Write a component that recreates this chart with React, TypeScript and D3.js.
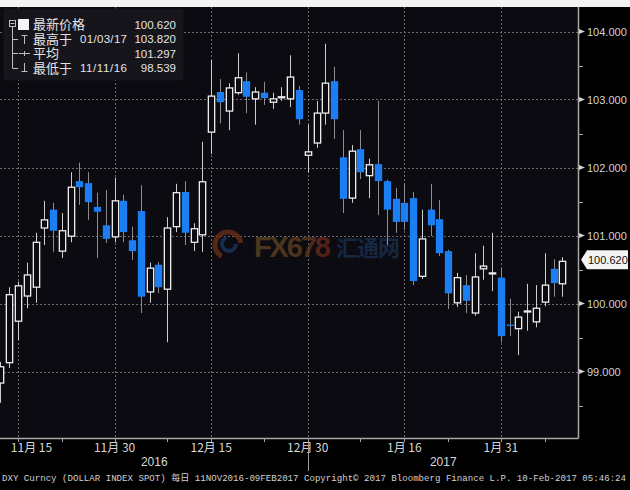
import * as d3 from 'd3'
import React from 'react'

// DXY daily candles, 11 Nov 2016 - 09 Feb 2017
const dates = [
  '2016-11-11', '2016-11-14', '2016-11-15', '2016-11-16', '2016-11-17', '2016-11-18',
  '2016-11-21', '2016-11-22', '2016-11-23', '2016-11-24', '2016-11-25',
  '2016-11-28', '2016-11-29', '2016-11-30', '2016-12-01', '2016-12-02',
  '2016-12-05', '2016-12-06', '2016-12-07', '2016-12-08', '2016-12-09',
  '2016-12-12', '2016-12-13', '2016-12-14', '2016-12-15', '2016-12-16',
  '2016-12-19', '2016-12-20', '2016-12-21', '2016-12-22', '2016-12-23',
  '2016-12-26', '2016-12-27', '2016-12-28', '2016-12-29', '2016-12-30',
  '2017-01-02', '2017-01-03', '2017-01-04', '2017-01-05', '2017-01-06',
  '2017-01-09', '2017-01-10', '2017-01-11', '2017-01-12', '2017-01-13',
  '2017-01-16', '2017-01-17', '2017-01-18', '2017-01-19', '2017-01-20',
  '2017-01-23', '2017-01-24', '2017-01-25', '2017-01-26', '2017-01-27',
  '2017-01-30', '2017-01-31', '2017-02-01', '2017-02-02', '2017-02-03',
  '2017-02-06', '2017-02-07', '2017-02-08', '2017-02-09',
]
const opens = [
  98.83, 99.13, 99.74, 100.11, 100.24, 101.11,
  101.38, 100.77, 100.99, 101.8, 101.77,
  101.42, 101.15, 100.98, 101.51, 100.93,
  101.36, 100.17, 100.57, 100.21, 101.13,
  101.64, 100.9, 101.01, 102.52, 103.11,
  102.83, 103.1, 103.27, 103.01, 103.1,
  102.96, 103.03, 103.01, 103.14, 102.18,
  102.36, 102.8, 103.27, 102.15, 101.55,
  102.27, 101.88, 102.05, 101.8, 101.54,
  101.48, 101.55, 100.4, 101.38, 101.24,
  100.77, 100.01, 100.27, 99.86, 100.51,
  100.44, 100.38, 99.69, 99.63, 99.88,
  99.73, 100.02, 100.51, 100.29,
]
const highs = [
  99.14, 100.24, 100.32, 100.6, 101.04, 101.51,
  101.48, 101.33, 101.93, 102.07, 101.93,
  101.63, 101.67, 101.85, 101.6, 101.13,
  101.74, 100.6, 100.61, 101.27, 101.76,
  101.8, 101.18, 102.38, 103.58, 103.3,
  103.24, 103.68, 103.4, 103.18, 103.26,
  103.1, 103.18, 103.65, 103.2, 102.63,
  102.98, 103.82, 103.48, 102.55, 102.33,
  102.55, 102.13, 102.98, 101.82, 101.7,
  101.77, 101.64, 101.38, 101.76, 101.52,
  100.79, 100.45, 100.42, 100.74, 100.85,
  101.04, 100.52, 100.07, 99.88, 100.29,
  100.27, 100.74, 100.65, 100.68,
]
const lows = [
  98.539, 99.05, 99.46, 99.93, 100.01, 100.86,
  100.76, 100.67, 100.9, 101.45, 101.23,
  100.67, 100.89, 100.9, 100.9, 100.64,
  99.86, 100.01, 100.15, 99.43, 101.05,
  100.86, 100.77, 100.76, 102.2, 102.65,
  102.55, 103.07, 102.8, 102.63, 102.92,
  102.86, 102.98, 102.89, 102.63, 101.93,
  102.29, 102.63, 102.42, 101.33, 101.48,
  101.83, 101.55, 101.3, 100.86, 101.04,
  101.08, 100.27, 100.36, 100.99, 100.7,
  99.92, 99.95, 99.86, 99.82, 100.35,
  100.18, 99.43, 99.52, 99.24, 99.6,
  99.65, 99.96, 100.1, 100.1,
]
const closes = [
  99.07, 100.13, 100.26, 100.42, 100.9, 101.23,
  101.07, 101.07, 101.71, 101.71, 101.49,
  101.35, 100.95, 101.51, 101.05, 100.77,
  100.1, 100.52, 100.24, 101.11, 101.63,
  101.04, 101.1, 101.79, 103.05, 102.96,
  103.17, 103.32, 103.04, 103.11, 103.02,
  103.01, 103.04, 103.33, 102.71, 102.23,
  102.8, 103.24, 102.71, 101.54, 102.24,
  101.93, 102.04, 101.8, 101.38, 101.2,
  101.2, 100.33, 100.95, 101.15, 100.74,
  100.15, 100.38, 100.04, 100.39, 100.55,
  100.45, 99.52, 99.67, 99.8, 99.89,
  99.93, 100.27, 100.3, 100.62,
]

const tickDates = ['2016-11-15', '2016-11-30', '2016-12-15', '2016-12-30', '2017-01-16', '2017-01-31']
const tickLabels = ['11月 15', '11月 30', '12月 15', '12月 30', '1月 16', '1月 31']
const minorTickDates = ['2016-11-22', '2016-12-08', '2016-12-23', '2017-01-09', '2017-01-23', '2017-02-07']
const years = ['2016', '2017']
const yearBreak = '2016-12-30'
const priceTicks = [99, 100, 101, 102, 103, 104]
const priceMinorTicks = [98.5, 99.5, 100.5, 101.5, 102.5, 103.5]

const legendNames = ['最新价格', '最高于', '平均', '最低于']
const legendDates = ['', '01/03/17', '', '11/11/16']
const legendValues = ['100.620', '103.820', '101.297', '98.539']

const footer =
  'DXY Curncy (DOLLAR INDEX SPOT)  每日 11NOV2016-09FEB2017  Copyright© 2017 Bloomberg Finance L.P.  10-Feb-2017 05:46:24'

const W = 630
const H = 490
const plotTop = 7
const plotRight = 578
const plotBottom = 438
const BLUE = '#1b7ef2'
const GRID = '#6a6a6a'
const CJK = '"Noto Sans CJK SC", "Noto Sans", sans-serif'
const LAT = '"Liberation Sans", Arial, sans-serif'

export default function App() {
  const x = d3.scalePoint<string>().domain(dates).range([0.44, 562.4])
  const y = d3.scaleLinear().domain([99, 104]).range([371.5, 31.5])
  const step = x.step()
  const bodyW = step * 0.72
  const px = (v: number) => Math.round(v) + 0.5

  const lastClose = closes[closes.length - 1]
  const flagY = y(lastClose) - 1.5
  const breakX = px(x(yearBreak)!)

  return (
    <svg width={W} height={H} style={{ position: 'absolute', left: 0, top: 0, display: 'block' }}>
      <defs>
        <linearGradient id="wmGrad" x1="0" x2="1" y1="0" y2="0">
          <stop offset="0%" stopColor="#5e4822" />
          <stop offset="55%" stopColor="#624020" />
          <stop offset="100%" stopColor="#6c2416" />
        </linearGradient>
      </defs>
      <rect x={0} y={0} width={W} height={H} fill="#000" />
      <rect x={0} y={0} width={W} height={plotTop} fill="#f3f3f3" />
      <rect x={0} y={plotTop} width={plotRight} height={plotBottom - plotTop} fill="#0c0b11" />

      {/* gridlines */}
      {priceTicks.map((t) => (
        <line key={'hg' + t} x1={0} x2={plotRight} y1={px(y(t))} y2={px(y(t))}
          stroke={GRID} strokeWidth={1} strokeDasharray="2,2" />
      ))}
      {tickDates.map((d) => (
        <line key={'vg' + d} x1={px(x(d)!)} x2={px(x(d)!)} y1={plotTop} y2={plotBottom}
          stroke={GRID} strokeWidth={1} strokeDasharray="2,2" />
      ))}

      {/* watermark */}
      <g opacity={0.75}>
        <circle cx={228} cy={245} r={13} fill="none" stroke="#6e3018" strokeWidth={5}
          strokeDasharray="52 30" transform="rotate(120 228 245)" />
        <circle cx={229} cy={244} r={7} fill="none" stroke="#1b3660" strokeWidth={4}
          strokeDasharray="30 14" />
        <text x={254} y={257} fontFamily={LAT} fontWeight="bold" fontSize={29}
          fill="url(#wmGrad)" textLength={77}>FX678</text>
        <text x={336} y={256} fontFamily={CJK} fontWeight="bold" fontSize={22}
          fill="#1a3152" textLength={64}>汇通网</text>
      </g>

      {/* candles */}
      {dates.map((d, i) => {
        const o = opens[i], h = highs[i], l = lows[i], c = closes[i]
        const up = c >= o
        const cx = px(x(d)!)
        const top = y(Math.max(o, c))
        const bot = y(Math.min(o, c))
        const bh = Math.max(bot - top, 1)
        return (
          <g key={d}>
            <line x1={cx} x2={cx} y1={y(h)} y2={y(l)} stroke={up ? '#cfcfcf' : '#8c8c8c'} strokeWidth={1} />
            {up ? (
              <rect x={cx - bodyW / 2} y={top} width={bodyW} height={bh}
                fill="#0c0b11" stroke="#eeeeee" strokeWidth={1.3} />
            ) : (
              <rect x={cx - bodyW / 2 - 0.5} y={top} width={bodyW + 1} height={bh} fill={BLUE} />
            )}
          </g>
        )
      })}

      {/* axes */}
      <line x1={plotRight + 0.5} x2={plotRight + 0.5} y1={plotTop} y2={plotBottom + 0.5} stroke="#a8a8a8" strokeWidth={1.5} />
      <line x1={0} x2={plotRight + 0.5} y1={plotBottom + 0.5} y2={plotBottom + 0.5} stroke="#a8a8a8" strokeWidth={1.5} />

      {priceTicks.map((t) => (
        <g key={'yt' + t}>
          <path d={`M${plotRight + 1},${y(t) - 2.5} L${plotRight + 7},${y(t)} L${plotRight + 1},${y(t) + 2.5} Z`} fill="#d0d0d0" />
          <text x={plotRight + 9} y={y(t) + 4} fontFamily={LAT} fontSize={11} fill="#d2d2d2">
            {d3.format('.3f')(t)}
          </text>
        </g>
      ))}
      {priceMinorTicks.map((t) => (
        <line key={'ym' + t} x1={plotRight + 1} x2={plotRight + 5} y1={px(y(t))} y2={px(y(t))} stroke="#a8a8a8" />
      ))}

      {/* last price flag */}
      <path
        d={`M${plotRight + 3},${flagY} L${plotRight + 9},${flagY - 9.5} L${W - 2},${flagY - 9.5} L${W - 2},${flagY + 9.5} L${plotRight + 9},${flagY + 9.5} Z`}
        fill="#f4f4f4" />
      <text x={plotRight + 10} y={flagY + 4} fontFamily={LAT} fontSize={11} fill="#111">
        {d3.format('.3f')(lastClose)}
      </text>

      {/* x ticks and labels */}
      {tickDates.map((d, i) => (
        <g key={'xt' + d}>
          <line x1={px(x(d)!)} x2={px(x(d)!)} y1={plotBottom} y2={plotBottom + 4} stroke="#a8a8a8" />
          <text x={Math.max(x(d)!, 31.5)} y={452} textAnchor="middle" fontFamily={CJK} fontSize={12} fill="#d6d6d6">
            {tickLabels[i]}
          </text>
        </g>
      ))}
      {minorTickDates.map((d) => (
        <line key={'xm' + d} x1={px(x(d)!)} x2={px(x(d)!)} y1={plotBottom} y2={plotBottom + 4} stroke="#a8a8a8" />
      ))}
      <line x1={breakX} x2={breakX} y1={plotBottom} y2={471} stroke="#9a9a9a" />
      <text x={breakX / 2} y={466} textAnchor="middle" fontFamily={LAT} fontSize={12} fill="#d6d6d6">{years[0]}</text>
      <text x={(breakX + plotRight) / 2} y={466} textAnchor="middle" fontFamily={LAT} fontSize={12} fill="#d6d6d6">{years[1]}</text>

      <text x={2} y={481} fontFamily='"Liberation Mono", "Noto Sans CJK SC", monospace' fontSize={8.9}
        fill="#d0d0d0" textLength={624} lengthAdjust="spacingAndGlyphs">{footer}</text>

      {/* legend */}
      <rect x={3.5} y={8.5} width={180} height={72} rx={3} fill="#15151b" />
      <g stroke="#bdbdbd" strokeWidth={1} fill="none">
        <rect x={9.5} y={20.5} width={6} height={6} />
        <line x1={10.5} x2={14.5} y1={23.5} y2={23.5} />
        <line x1={12.5} x2={12.5} y1={26.5} y2={68.5} />
        <line x1={12.5} x2={18} y1={39.5} y2={39.5} />
        <line x1={12.5} x2={18} y1={53.5} y2={53.5} />
        <line x1={12.5} x2={18} y1={68.5} y2={68.5} />
        <line x1={21.5} x2={27.5} y1={35.5} y2={35.5} />
        <line x1={24.5} x2={24.5} y1={35.5} y2={44} />
        <line x1={19} x2={30} y1={53.5} y2={53.5} />
        <line x1={24.5} x2={24.5} y1={51} y2={56} />
        <line x1={24.5} x2={24.5} y1={63} y2={71.5} />
        <line x1={21.5} x2={27.5} y1={71.5} y2={71.5} />
      </g>
      <rect x={18} y={19} width={11} height={11} fill="#f4f4f4" />
      {legendNames.map((n, i) => (
        <g key={'lg' + i} fill="#e4e4e4">
          <text x={33} y={29 + i * 14.6} fontFamily={CJK} fontSize={13}>{n}</text>
          <text x={80} y={28.5 + i * 14.6} fontFamily={LAT} fontSize={11.5} textLength={legendDates[i] ? 47 : undefined}>{legendDates[i]}</text>
          <text x={176} y={28.5 + i * 14.6} textAnchor="end" fontFamily={LAT} fontSize={11.5}>{legendValues[i]}</text>
        </g>
      ))}
    </svg>
  )
}
